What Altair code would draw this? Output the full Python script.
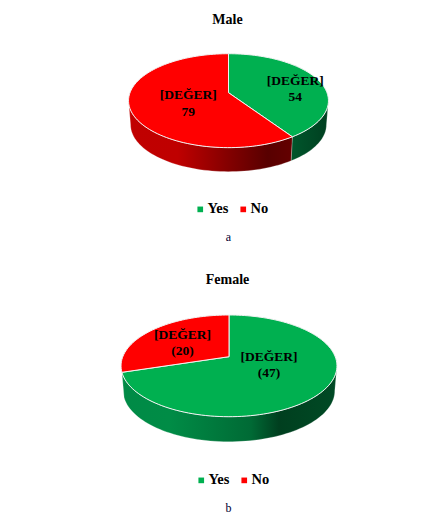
import math
import altair as alt

# ---- values ----
answers = ["Yes", "No"]
male_values = [54, 79]
female_values = [47, 20]
placeholder = "[DEĞER]"
male_labels = ["54", "79"]
female_labels = ["(47)", "(20)"]
panel_titles = ["Male", "Female"]
captions = ["a", "b"]

GREEN, RED = "#00B050", "#FF0000"
FONT = "Liberation Serif"
W, PANEL_H = 419, 246
ORIGIN_Y = [27, 287]          # page y of each panel's top edge


def mapper(cx, ay, a, b, k, depth=0.0, shrink=1.0):
    """Perspective view of a unit disc; angle is clockwise from 12 o'clock."""
    def f(deg, r=1.0):
        t = math.radians(deg)
        u, v = r * math.sin(t), r * math.cos(t)
        w = 1 + k * v
        return [cx + shrink * a * u / w, ay - b * v / w + depth]
    return f


def sweep(a0, a1, step=2.0):
    n = max(2, int(abs(a1 - a0) / step) + 1)
    return [a0 + (a1 - a0) * i / (n - 1) for i in range(n)]


def feature(ring, answer):
    return {"type": "Feature", "properties": {"answer": answer},
            "geometry": {"type": "Polygon", "coordinates": [ring + [ring[0]]]}}


def fc(features):
    return alt.Data(values={"type": "FeatureCollection", "features": features},
                    format=alt.DataFormat(type="json", property="features"))


def grad(stops):
    return alt.LinearGradient(gradient="linear", x1=0, x2=1, y1=0, y2=0,
                              stops=[alt.GradientStop(offset=o, color=c) for o, c in stops])


PROJ = dict(type="identity", scale=1, translate=[0, 0])


def pie(idx, values, labels, geom, wall_grad, label_tune, legend_xy, caption_y):
    oy = ORIGIN_Y[idx]
    cx, apex, a, b, k, depth, shrink = geom
    ay = apex - oy
    top = mapper(cx, ay, a, b, k)
    low = mapper(cx, ay, a, b, k, depth, shrink)
    total = sum(values)
    edges = [0.0]
    for v in values:
        edges.append(edges[-1] + 360.0 * v / total)
    right = math.degrees(math.acos(-k))
    left = 360 - right

    layers = []
    for i, ans in enumerate(answers):
        s, e = max(edges[i], right), min(edges[i + 1], left)
        if e - s > 10:
            ring = [top(t) for t in sweep(s, e)] + [low(t) for t in sweep(e, s)]
            layers.append(alt.Chart(fc([feature(ring, ans)])).mark_geoshape(
                fill=grad(wall_grad[ans]), stroke="#ffffff", strokeWidth=0.4, strokeOpacity=0.6
            ).project(**PROJ))

    apex_pt = top(0, 0)
    faces = []
    for i, ans in enumerate(answers):
        ring = [apex_pt] + [top(t) for t in sweep(edges[i], edges[i + 1])]
        faces.append(feature(ring, ans))
    layers.append(alt.Chart(fc(faces)).mark_geoshape(
        stroke="#f2f2f2", strokeWidth=1
    ).encode(
        color=alt.Color("properties.answer:N",
                        scale=alt.Scale(domain=answers, range=[GREEN, RED]),
                        legend=alt.Legend(title=None, orient="none", direction="horizontal",
                                          legendX=legend_xy[0], legendY=legend_xy[1] - oy - 6,
                                          symbolType="square", symbolSize=32, symbolStrokeWidth=0,
                                          columnPadding=7, labelOffset=0,
                                          labelFont=FONT, labelFontWeight="bold", labelFontSize=14.5,
                                          labelColor="#000000", padding=0))
    ).project(**PROJ))

    rows = []
    for i, ans in enumerate(answers):
        mid = (edges[i] + edges[i + 1]) / 2
        r, dx, dy = label_tune[i]
        x, y = top(mid, r)
        rows.append({"lon": x + dx, "lat": y + dy, "txt": placeholder + "\n" + labels[i]})
    layers.append(alt.Chart(alt.Data(values=rows)).mark_text(
        font=FONT, fontWeight="bold", fontSize=13.5, color="#000000", lineBreak="\n",
        lineHeight=16.5, align="center", baseline="middle"
    ).encode(longitude="lon:Q", latitude="lat:Q", text="txt:N").project(**PROJ))

    layers.append(alt.Chart(alt.Data(values=[{"lon": 220.5, "lat": caption_y - oy, "t": captions[idx]}])).mark_text(
        font=FONT, fontSize=12, color="#000030", align="center", baseline="middle"
    ).encode(longitude="lon:Q", latitude="lat:Q", text="t:N").project(**PROJ))

    return alt.layer(*layers).resolve_legend(color="independent").properties(
        width=W, height=PANEL_H,
        title=alt.Title(panel_titles[idx], font=FONT, fontWeight="bold", fontSize=14,
                        color="#000000", anchor="middle", offset=0, frame="group", dx=10)
    )


male = pie(0, male_values, male_labels,
           (220.5, 92.7, 98.5, 45.6, 0.17, 24, 0.98),
           {"Yes": [(0, "#00562c"), (1, "#003f20")],
            "No": [(0, "#c00000"), (0.3, "#bf0000"), (0.6, "#850000"), (0.85, "#580000"), (1, "#640000")]},
           [(0.7, 3, -3), (0.55, 13, -5)], (185, 208), 237)

female = pie(1, female_values, female_labels,
             (221, 356.7, 106.2, 49.2, 0.18, 25, 0.98),
             {"Yes": [(0, "#008a46"), (0.22, "#008c46"), (0.6, "#006a35"), (0.73, "#003f1f"), (1, "#004a25")],
              "No": [(0, "#c00000"), (1, "#c00000")]},
             [(0.55, -10, -17), (0.55, -2, -7)], (186, 479), 508)

chart = alt.vconcat(male, female, spacing=0).resolve_scale(color="independent").properties(
    padding={"top": 5, "left": 0, "right": 0, "bottom": 0}, background="white"
).configure_view(stroke=None)

chart.save("out.html", embed_options={"renderer": "svg", "actions": False})
